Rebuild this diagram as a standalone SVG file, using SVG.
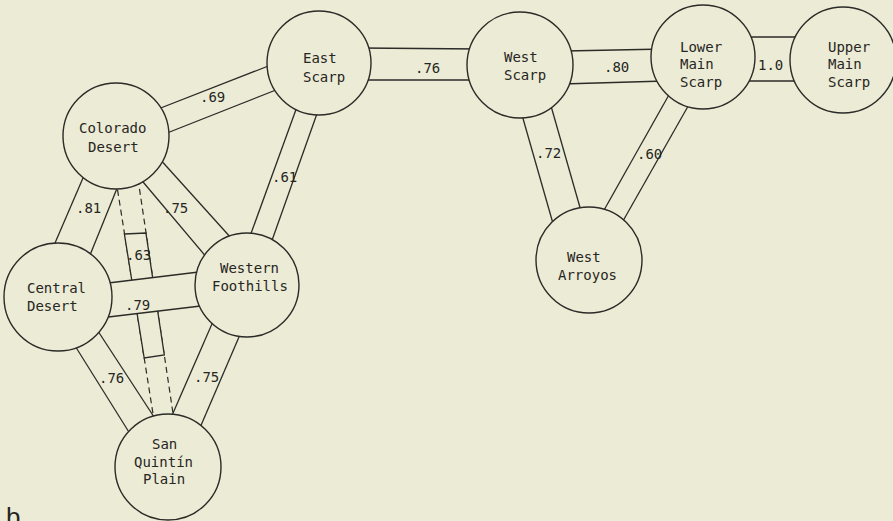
<svg xmlns="http://www.w3.org/2000/svg" width="893" height="521" viewBox="0 0 893 521">
<style>
.bg{fill:#ecebd5}
.ln{stroke:#2b2b28;stroke-width:1.3;fill:none}
.dash{stroke:#2b2b28;stroke-width:1.2;fill:none;stroke-dasharray:6 4}
.band{fill:#ecebd5;stroke:none}
.node circle{fill:#ecebd5;stroke:#2b2b28;stroke-width:1.4}
text{font-family:"DejaVu Sans Mono","Liberation Mono",monospace;font-size:14px;fill:#262623}
.lbl{font-size:14px}
</style>
<rect class="bg" x="0" y="0" width="893" height="521"/>
<g id="connectors">
  <line class="dash" x1="116" y1="180" x2="154" y2="420"/>
  <line class="dash" x1="138" y1="179" x2="174" y2="420"/>
  <polygon points="124.4,234 145.9,233 164.3,355 144.2,358" fill="#ecebd5" stroke="#2b2b28" stroke-width="1.3"/>
  <text class="lbl" x="126" y="260">.63</text>
  <polygon class="band" points="100,284 207,271 209,305 100,318"/>
  <line class="ln" x1="100" y1="284" x2="207" y2="271"/>
  <line class="ln" x1="100" y1="318" x2="209" y2="305"/>
  <text class="lbl" x="125" y="310">.79</text>
  <line class="ln" x1="153" y1="111" x2="276" y2="63"/>
  <line class="ln" x1="162" y1="135" x2="281" y2="88"/>
  <text class="lbl" x="200" y="102">.69</text>
  <line class="ln" x1="298" y1="104" x2="249" y2="239"/>
  <line class="ln" x1="319" y1="108" x2="270" y2="246"/>
  <text class="lbl" x="272" y="182">.61</text>
  <line class="ln" x1="86" y1="171" x2="52" y2="250"/>
  <line class="ln" x1="120" y1="181" x2="88" y2="260"/>
  <text class="lbl" x="76" y="213">.81</text>
  <line class="ln" x1="138" y1="176" x2="208" y2="259"/>
  <line class="ln" x1="158" y1="157" x2="232" y2="239"/>
  <text class="lbl" x="163" y="213">.75</text>
  <line class="ln" x1="72" y1="341" x2="132" y2="437"/>
  <line class="ln" x1="94" y1="325" x2="156" y2="420"/>
  <text class="lbl" x="99" y="383">.76</text>
  <line class="ln" x1="215" y1="317" x2="170" y2="420"/>
  <line class="ln" x1="242" y1="330" x2="199" y2="430"/>
  <text class="lbl" x="194" y="382">.75</text>
  <line class="ln" x1="360" y1="48" x2="480" y2="49"/>
  <line class="ln" x1="360" y1="80" x2="480" y2="80"/>
  <text class="lbl" x="415" y="73">.76</text>
  <line class="ln" x1="565" y1="51" x2="665" y2="49"/>
  <line class="ln" x1="562" y1="84" x2="665" y2="81"/>
  <text class="lbl" x="604" y="72">.80</text>
  <line class="ln" x1="745" y1="37" x2="800" y2="37"/>
  <line class="ln" x1="745" y1="81" x2="800" y2="81"/>
  <text class="lbl" x="758" y="70">1.0</text>
  <line class="ln" x1="520" y1="108" x2="554" y2="227"/>
  <line class="ln" x1="549" y1="99" x2="583" y2="218"/>
  <text class="lbl" x="536" y="158">.72</text>
  <line class="ln" x1="670" y1="93" x2="599" y2="219"/>
  <line class="ln" x1="691" y1="101" x2="619" y2="228"/>
  <text class="lbl" x="637" y="159">.60</text>
</g>
<g id="colorado-desert" class="node">
  <circle cx="116" cy="136" r="53"/>
  <text x="79" y="133">Colorado</text>
  <text x="88" y="152">Desert</text>
</g>
<g id="east-scarp" class="node">
  <circle cx="319" cy="63" r="52"/>
  <text x="303" y="63">East</text>
  <text x="303" y="82">Scarp</text>
</g>
<g id="west-scarp" class="node">
  <circle cx="520" cy="65" r="53"/>
  <text x="504" y="62">West</text>
  <text x="504" y="80">Scarp</text>
</g>
<g id="lower-main-scarp" class="node">
  <circle cx="703" cy="57" r="52"/>
  <text x="680" y="52">Lower</text>
  <text x="680" y="69">Main</text>
  <text x="680" y="87">Scarp</text>
</g>
<g id="upper-main-scarp" class="node">
  <circle cx="843" cy="60" r="53"/>
  <text x="828" y="52">Upper</text>
  <text x="828" y="69">Main</text>
  <text x="828" y="87">Scarp</text>
</g>
<g id="west-arroyos" class="node">
  <circle cx="589" cy="260" r="53"/>
  <text x="567" y="262">West</text>
  <text x="558" y="280">Arroyos</text>
</g>
<g id="central-desert" class="node">
  <circle cx="58" cy="297" r="54"/>
  <text x="27" y="293">Central</text>
  <text x="27" y="311">Desert</text>
</g>
<g id="western-foothills" class="node">
  <circle cx="247" cy="285" r="52"/>
  <text x="220" y="273">Western</text>
  <text x="212" y="291">Foothills</text>
</g>
<g id="san-quintin-plain" class="node">
  <circle cx="168" cy="467" r="53"/>
  <text x="152" y="449">San</text>
  <text x="134" y="467">Quintín</text>
  <text x="143" y="484">Plain</text>
</g>
<text x="6" y="526" style="font-family:'Liberation Sans',Arial,sans-serif;font-size:26px">b</text>
</svg>
